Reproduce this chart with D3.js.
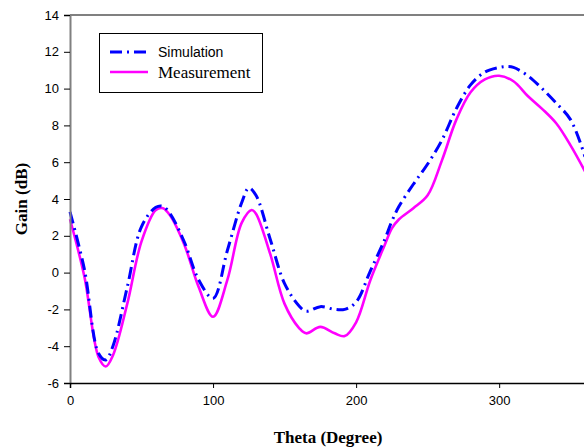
<!DOCTYPE html>
<html>
<head>
<meta charset="utf-8">
<script src="https://d3js.org/d3.v7.min.js"></script>
<style>
  body { margin: 0; background: #fff; }
  .tick text { font-family: "Liberation Sans", Arial, sans-serif; font-size: 13px; fill: #000; }
</style>
</head>
<body>
<div id="chart"></div>
<script>
// theta (degree) and gain (dB)
var simTheta = [0, 10, 20, 25, 30, 40, 50, 60, 65, 70, 80, 90, 100, 110, 120, 125, 130, 140, 150, 160, 165, 175, 185, 192, 200, 210, 220, 225, 230, 240, 250, 260, 270, 280, 290, 300, 305, 310, 320, 330, 340, 350, 360];
var simGain  = [3.3, 0.2, -4.4, -4.75, -4.0, -0.8, 2.5, 3.55, 3.6, 3.2, 1.65, -0.4, -1.4, 1.2, 3.8, 4.6, 4.2, 1.8, -0.6, -1.8, -2.1, -1.85, -2.0, -2.0, -1.6, 0.1, 1.8, 2.8, 3.6, 4.8, 5.9, 7.2, 8.9, 10.2, 10.9, 11.15, 11.2, 11.15, 10.7, 10.0, 9.2, 8.3, 6.3];

var meaTheta = [0, 10, 20, 25, 30, 40, 50, 60, 65, 70, 80, 90, 100, 110, 120, 127, 130, 140, 150, 160, 165, 175, 185, 192, 200, 210, 220, 225, 230, 240, 250, 260, 270, 280, 290, 300, 310, 320, 330, 340, 350, 360];
var meaGain  = [2.9, -0.2, -4.6, -5.1, -4.5, -1.7, 1.7, 3.4, 3.5, 3.1, 1.5, -0.8, -2.4, -0.4, 2.7, 3.4, 3.2, 1.0, -1.7, -3.0, -3.3, -2.95, -3.3, -3.45, -2.7, -0.4, 1.5, 2.4, 2.9, 3.5, 4.2, 6.1, 8.3, 9.8, 10.5, 10.7, 10.4, 9.6, 8.9, 8.1, 6.9, 5.5];

var xTicks = [0, 100, 200, 300];
var yTicks = [-6, -4, -2, 0, 2, 4, 6, 8, 10, 12, 14];
var seriesNames = ["Simulation", "Measurement"];

var w = 584, h = 447;
var padL = 70, padR = 585, padT = 15, padB = 383;

var x = d3.scaleLinear().domain([0, 360]).range([padL, padR]);
var y = d3.scaleLinear().domain([-6, 14]).range([padB, padT]);

var svg = d3.select("#chart").append("svg")
    .attr("width", w).attr("height", h);

// top border of the plot area
svg.append("line")
    .attr("x1", padL).attr("x2", w).attr("y1", padT).attr("y2", padT)
    .style("stroke", "#808080").style("stroke-width", 2);

var line = d3.line()
    .x(function(d) { return x(d[0]); })
    .y(function(d) { return y(d[1]); })
    .curve(d3.curveCatmullRom.alpha(0.5));

var simData = simTheta.map(function(t, i) { return [t, simGain[i]]; });
var meaData = meaTheta.map(function(t, i) { return [t, meaGain[i]]; });

var plot = svg.append("g");
plot.append("path").datum(meaData)
    .attr("d", line)
    .style("fill", "none").style("stroke", "#ff00ff").style("stroke-width", 2.6);
plot.append("path").datum(simData)
    .attr("d", line)
    .style("fill", "none").style("stroke", "#0000ff").style("stroke-width", 3)
    .style("stroke-dasharray", "12,5,2,5");

// axes - plain hyphen for negatives like the original
var yAxis = d3.axisLeft(y).tickValues(yTicks).tickSize(6).tickPadding(5)
    .tickFormat(function(d) { return String(d); });
var gy = svg.append("g").attr("transform", "translate(" + padL + ",0)").call(yAxis);
gy.select(".domain").style("stroke", "#808080").style("stroke-width", 2);
gy.selectAll(".tick line").style("stroke", "#000");

var xAxis = d3.axisBottom(x).tickValues(xTicks).tickSize(5).tickPadding(8)
    .tickFormat(function(d) { return String(d); });
var gx = svg.append("g").attr("transform", "translate(0," + padB + ")").call(xAxis);
gx.select(".domain").style("stroke", "#000").style("stroke-width", 1.5);

// axis titles
svg.append("text")
    .attr("x", 328).attr("y", 443)
    .attr("text-anchor", "middle")
    .style("font-family", "'Liberation Serif', 'Times New Roman', serif")
    .style("font-weight", "bold").style("font-size", "17px")
    .text("Theta (Degree)");

svg.append("text")
    .attr("transform", "translate(27,199) rotate(-90)")
    .attr("text-anchor", "middle")
    .style("font-family", "'Liberation Serif', 'Times New Roman', serif")
    .style("font-weight", "bold").style("font-size", "17px")
    .text("Gain (dB)");

// legend
var lg = svg.append("g");
lg.append("rect")
    .attr("x", 99.5).attr("y", 33.5).attr("width", 163).attr("height", 59)
    .style("fill", "#fff").style("stroke", "#000").style("stroke-width", 1);
lg.append("line")
    .attr("x1", 110).attr("x2", 148).attr("y1", 52).attr("y2", 52)
    .style("stroke", "#0000ff").style("stroke-width", 3)
    .style("stroke-dasharray", "12,5,2,5");
lg.append("line")
    .attr("x1", 110).attr("x2", 148).attr("y1", 72).attr("y2", 72)
    .style("stroke", "#ff00ff").style("stroke-width", 2.6);
lg.append("text")
    .attr("x", 158).attr("y", 57)
    .style("font-family", "'Liberation Sans', Arial, sans-serif").style("font-size", "14px")
    .text(seriesNames[0]);
lg.append("text")
    .attr("x", 158).attr("y", 78)
    .style("font-family", "'Liberation Serif', 'Times New Roman', serif").style("font-size", "17px")
    .text(seriesNames[1]);
</script>
</body>
</html>
